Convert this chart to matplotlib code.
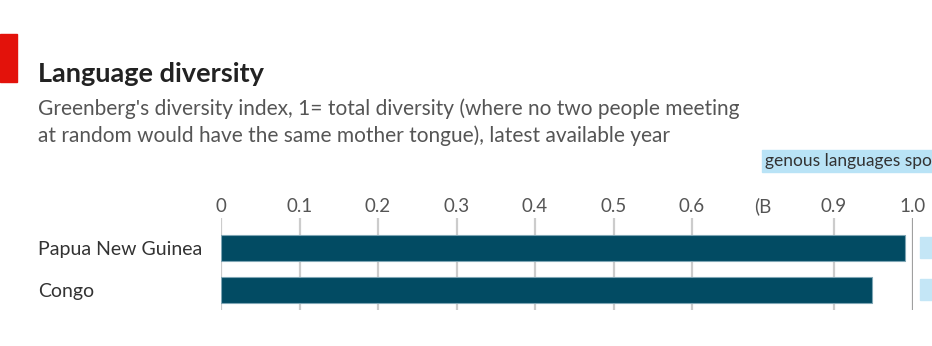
import numpy as np
import matplotlib
matplotlib.use("Agg")
import matplotlib.pyplot as plt
from matplotlib.patches import Rectangle

# Datos
paises = ["Papua New Guinea", "Congo"]
diversidad = [0.99, 0.948]
ticks = [0, 0.1, 0.2, 0.3, 0.4, 0.5, 0.6, 0.75, 0.9, 1.0]
tick_labels = ["0", "0.1", "0.2", "0.3", "0.4", "0.5", "0.6", "(B", "0.9", "1.0"]
rejilla = [0, 0.1, 0.2, 0.3, 0.4, 0.5, 0.6, 0.9]

# escala irregular del original (0.7 y 0.8 aparecen comprimidos)
_xs = [-10, 0, 0.6, 0.9, 1.0, 11]
_px = [-7850, 0, 471, 613, 692, 7882]

def fwd(x):
    return np.interp(x, _xs, _px)

def inv(p):
    return np.interp(p, _px, _xs)

plt.rcParams["font.family"] = ["Lato", "DejaVu Sans"]

W, H = 932, 346
fig = plt.figure(figsize=(W / 100, H / 100), dpi=100)
fig.patch.set_facecolor("white")

def fx(px):
    return px / W

def fy(py):
    return 1 - py / H

# barra roja
fig.patches.append(Rectangle((0, fy(82)), fx(17), 48 / H, transform=fig.transFigure,
                             color="#e3120b", zorder=5))

fig.text(fx(38), fy(82), "Language diversity", fontsize=19.5, fontweight="bold",
         color="#222222", va="baseline")
fig.text(fx(38), fy(115), "Greenberg's diversity index, 1= total diversity (where no two people meeting",
         fontsize=15, color="#555555", va="baseline")
fig.text(fx(38), fy(142), "at random would have the same mother tongue), latest available year",
         fontsize=15, color="#555555", va="baseline")

# panel cortado a la derecha
fig.patches.append(Rectangle((fx(762), fy(172)), fx(170), 22 / H, transform=fig.transFigure,
                             color="#b9e3f6", zorder=1))
fig.text(fx(765), fy(161), "genous languages spo", fontsize=12.5, color="#333333",
         va="center", zorder=2)
for y0 in (258, 300):
    fig.patches.append(Rectangle((fx(920), fy(y0)), fx(12), 21 / H, transform=fig.transFigure,
                                 color="#c4e6f6", zorder=1))

ax = fig.add_axes([fx(221), fy(310), fx(913 - 221), (310 - 218) / H])
ax.set_xscale("function", functions=(fwd, inv))
ax.set_xlim(0, 1.0)
ax.set_ylim(1.476, -0.714)

for g in rejilla:
    ax.axvline(g, color="#cccccc", lw=1.6, zorder=0)
ax.axvline(1.0, color="#a0a0a0", lw=1.6, zorder=0)

ax.barh(range(len(paises)), diversidad, height=0.6, color="#024b63",
        edgecolor="#7fa6b5", linewidth=0.8, zorder=3)

ax.set_xticks(ticks)
ax.set_xticklabels(tick_labels)
ax.xaxis.set_minor_locator(plt.NullLocator())
ax.xaxis.tick_top()
ax.tick_params(axis="x", length=0, pad=2, labelsize=13.5, labelcolor="#555555")

ax.set_yticks(range(len(paises)))
ax.set_yticklabels(paises)
ax.tick_params(axis="y", length=0, pad=183 * 0.72, labelsize=14, labelcolor="#333333")
for lab in ax.get_yticklabels():
    lab.set_horizontalalignment("left")

for s in ax.spines.values():
    s.set_visible(False)

fig.savefig("out.png", dpi=100, facecolor="white")
